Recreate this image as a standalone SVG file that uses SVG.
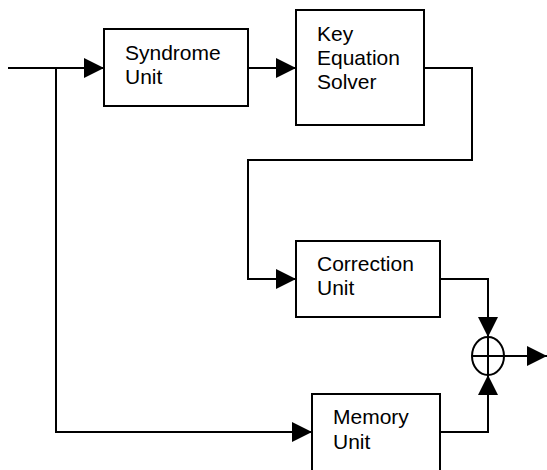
<svg xmlns="http://www.w3.org/2000/svg" width="547" height="470" viewBox="0 0 547 470">
  <style>
    .box { fill: #fff; stroke: #000; stroke-width: 2; }
    .wire { fill: none; stroke: #000; stroke-width: 2; }
    .lbl { font-family: "Liberation Sans", Arial, sans-serif; font-size: 21px; fill: #000; }
  </style>
  <defs>
    <marker id="arrow" viewBox="0 0 20 20" refX="20" refY="10" markerWidth="20" markerHeight="20" markerUnits="userSpaceOnUse" orient="auto">
      <path d="M0,0 L20,10 L0,20 Z" fill="#000"/>
    </marker>
  </defs>

  <g id="connectors">
    <!-- input to syndrome unit -->
    <path class="wire" d="M8,68 H104" marker-end="url(#arrow)"/>
    <!-- branch to memory unit -->
    <path class="wire" d="M56,68 V432 H312" marker-end="url(#arrow)"/>
    <!-- syndrome to key equation solver -->
    <path class="wire" d="M248,68 H296" marker-end="url(#arrow)"/>
    <!-- key equation solver to correction unit -->
    <path class="wire" d="M424,68 H472 V160 H248 V279 H296" marker-end="url(#arrow)"/>
    <!-- correction unit to adder -->
    <path class="wire" d="M440,279 H488 V337" marker-end="url(#arrow)"/>
    <!-- memory unit to adder -->
    <path class="wire" d="M440,432 H488 V375" marker-end="url(#arrow)"/>
    <!-- output -->
    <path class="wire" d="M504,356 H547" marker-end="url(#arrow)"/>
  </g>

  <g id="syndrome">
    <rect class="box" x="104" y="29" width="144" height="77"/>
    <text class="lbl" x="125" y="60">Syndrome</text>
    <text class="lbl" x="125" y="84">Unit</text>
  </g>

  <g id="keyeq">
    <rect class="box" x="296" y="10" width="128" height="115"/>
    <text class="lbl" x="317" y="41">Key</text>
    <text class="lbl" x="317" y="65">Equation</text>
    <text class="lbl" x="317" y="89">Solver</text>
  </g>

  <g id="correction">
    <rect class="box" x="296" y="241" width="144" height="76"/>
    <text class="lbl" x="317" y="271">Correction</text>
    <text class="lbl" x="317" y="295">Unit</text>
  </g>

  <g id="memory">
    <rect class="box" x="312" y="394" width="128" height="84"/>
    <text class="lbl" x="333" y="424">Memory</text>
    <text class="lbl" x="333" y="449">Unit</text>
  </g>

  <g id="adder">
    <ellipse class="box" cx="488" cy="356" rx="16" ry="19"/>
    <path class="wire" d="M472,356 H504 M488,337 V375"/>
  </g>
</svg>
